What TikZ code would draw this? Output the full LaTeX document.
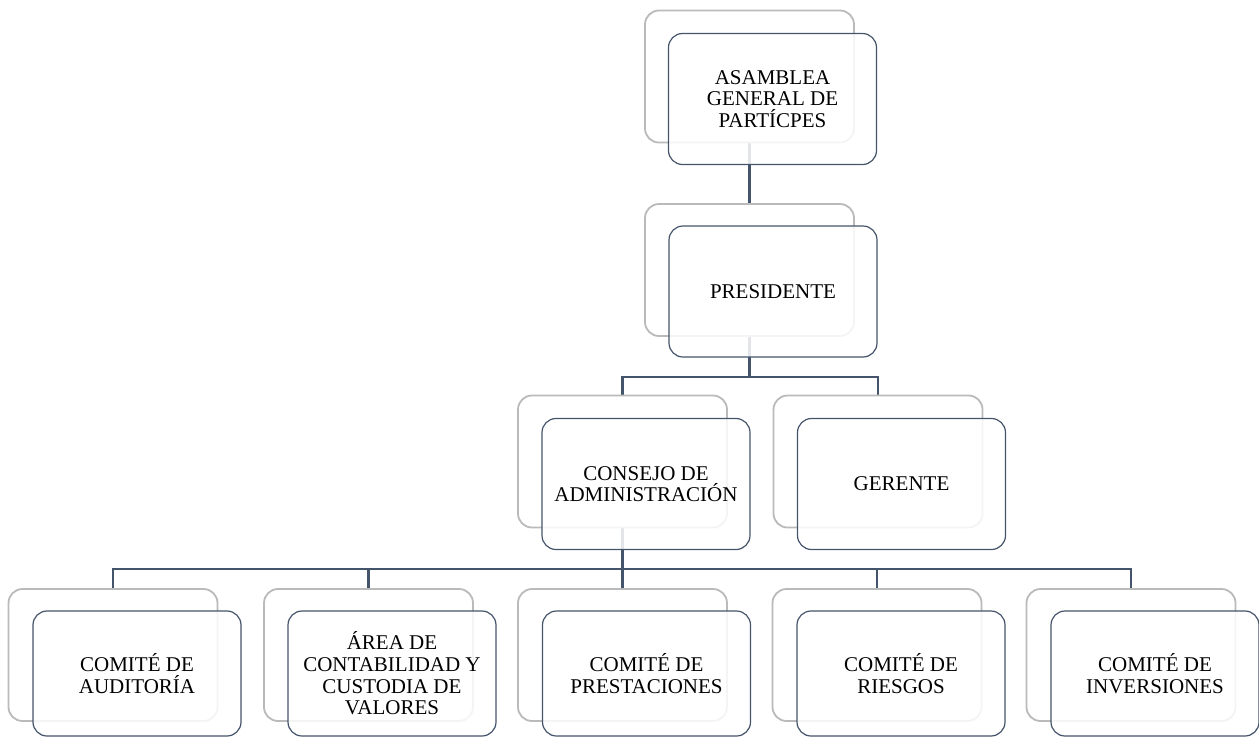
\documentclass[tikz,border=0pt]{standalone}
\usepackage{fontspec}
\setmainfont{Liberation Serif}
\usetikzlibrary{backgrounds}
\definecolor{slate}{HTML}{44546A}
\definecolor{backline}{HTML}{BABABA}
\tikzset{
  backbox/.style={draw=backline, line width=1.8pt, rounded corners=14pt, fill=white,
    minimum width=209pt, minimum height=132pt, inner sep=0pt},
  frontbox/.style={draw=slate, line width=1.2pt, rounded corners=14pt, fill=white, fill opacity=0.85,
    text opacity=1, minimum width=208pt, minimum height=131pt, inner sep=0pt, align=center,
    font=\fontsize{21}{21.7}\selectfont},
  lowfront/.style={frontbox, minimum height=125pt},
  link/.style={draw=slate, line width=2.6pt}
}
\begin{document}
\begin{tikzpicture}[x=1pt,y=-1pt]
\useasboundingbox (0,0) rectangle (1259,740);
% level 0
\node[backbox] (asb) at (749.5,76.5) {};
\node[frontbox] (asbf) at (772.5,99) {ASAMBLEA\\GENERAL DE\\PARTÍCPES};
% level 1
\node[backbox] (pre) at (749.5,270) {};
\node[frontbox] (pref) at (773,291.5) {PRESIDENTE};
% level 2
\node[backbox] (con) at (622.5,461.5) {};
\node[frontbox] (conf) at (646,484) {CONSEJO DE\\ADMINISTRACIÓN};
\node[backbox] (ger) at (878,461.5) {};
\node[frontbox] (gerf) at (901.5,484) {GERENTE};
% level 3
\node[backbox] (c1) at (113,655) {};
\node[lowfront] (c1f) at (137,673.5) {COMITÉ DE\\AUDITORÍA};
\node[backbox] (c2) at (368.5,655) {};
\node[lowfront] (c2f) at (392,673.5) {ÁREA DE\\CONTABILIDAD Y\\CUSTODIA DE\\VALORES};
\node[backbox] (c3) at (622.5,655) {};
\node[lowfront] (c3f) at (646.5,673.5) {COMITÉ DE\\PRESTACIONES};
\node[backbox] (c4) at (877,655) {};
\node[lowfront] (c4f) at (901,673.5) {COMITÉ DE\\RIESGOS};
\node[backbox] (c5) at (1131,655) {};
\node[lowfront] (c5f) at (1155,673.5) {COMITÉ DE\\INVERSIONES};
% connectors
\coordinate (bus1) at (749.5,377);
\coordinate (bus2) at (622.5,569);
\begin{scope}[on background layer]
\draw[link] (asb.south) -- (pre.north);
\draw[link] (pre.south) -- (bus1) -| (con.north);
\draw[link] (bus1) -| (ger.north);
\draw[link] (con.south) -- (bus2) -| (c1.north);
\draw[link] (bus2) -| (c2.north);
\draw[link] (bus2) -- (c3.north);
\draw[link] (bus2) -| (c4.north);
\draw[link] (bus2) -| (c5.north);
\end{scope}
\end{tikzpicture}
\end{document}
